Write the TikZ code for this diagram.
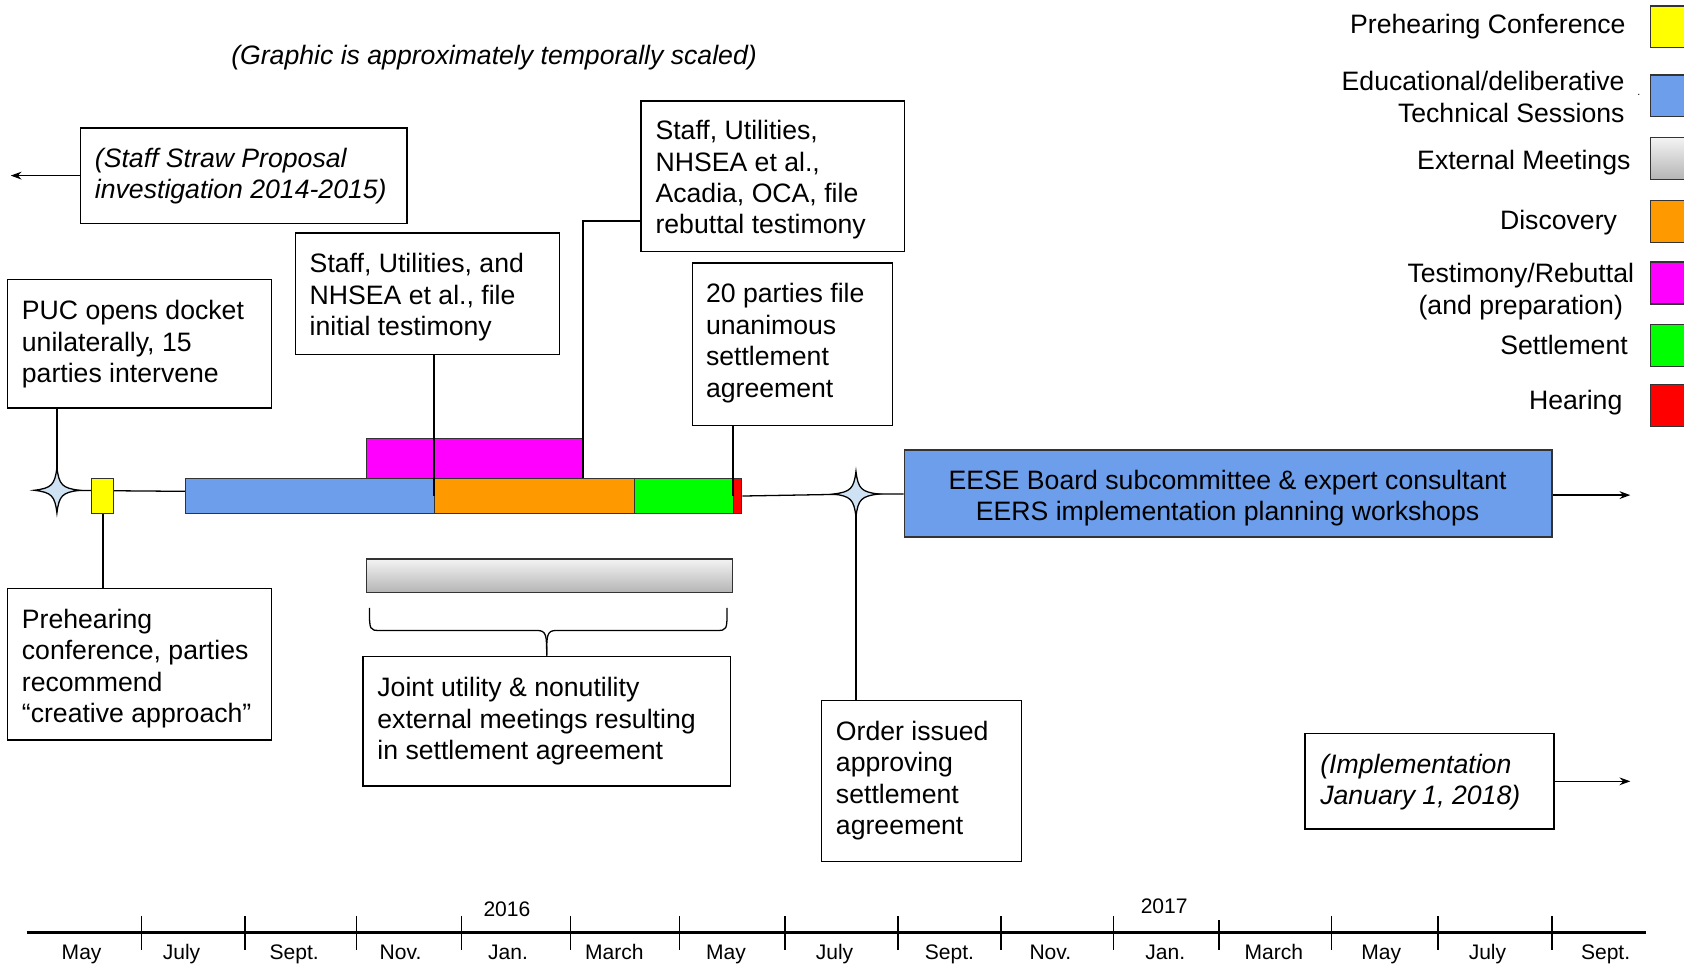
\documentclass[tikz,border=0pt]{standalone}
\usepackage{fontspec}
\setmainfont{Liberation Sans}
\usetikzlibrary{fit,arrows.meta}
\definecolor{barblue}{HTML}{6D9EEB}
\definecolor{barorange}{HTML}{FF9900}
\definecolor{barmag}{HTML}{FF00FF}
\definecolor{bargreen}{HTML}{00FF00}
\definecolor{barred}{HTML}{FF0000}
\definecolor{baryellow}{HTML}{FFFF00}
\definecolor{starfill}{HTML}{CFE2F3}
\definecolor{edge}{HTML}{333333}
\definecolor{graytop}{HTML}{F3F3F3}
\definecolor{graybot}{HTML}{B4B4B4}

\tikzset{
  basefont/.style={font=\fontsize{12.4}{14.65}\selectfont, inner sep=0pt},
  box/.style={draw=black, line width=0.65pt, inner sep=0pt},
  bar/.style={draw=edge, line width=0.6pt, inner sep=0pt},
  txt/.style={basefont, align=left, anchor=west, yshift=-1.25pt},
  link/.style={line width=1pt},
  thinlink/.style={line width=0.6pt},
  arrowline/.style={line width=0.6pt, -{Stealth[length=5pt,width=3.6pt]}},
  month/.style={font=\fontsize{9.8}{11}\selectfont, inner sep=0pt, anchor=base},
  legtxt/.style={basefont, anchor=base east},
  legbox/.style={draw=edge, line width=0.6pt, minimum width=25pt, minimum height=19.5pt, anchor=west, inner sep=0pt},
  pics/fourstar/.style={code={
    \draw[fill=starfill, line width=0.6pt]
      (0,-21) .. controls (2,-5) and (5,-2) .. (21,0)
      .. controls (5,2) and (2,5) .. (0,21)
      .. controls (-2,5) and (-5,2) .. (-21,0)
      .. controls (-5,-2) and (-2,-5) .. cycle;
  }},
}

\begin{document}
\begin{tikzpicture}[x=0.5pt,y=-0.5pt]
\clip (0,0) rectangle (1568,900);
\fill[white] (0,0) rectangle (1568,900);

% title
\node[basefont, anchor=base, font=\fontsize{12.4}{14.65}\selectfont\itshape] (title) at (460,60)
  {(Graphic is approximately temporally scaled)};

% legend
\node[legbox, fill=baryellow] (lg1) at (1536,25) {};
\node[legtxt] (lt1) at (1514,31.5) {Prehearing Conference};
\node[legbox, fill=barblue] (lg2) at (1536,89.2) {};
\node[basefont, align=right, anchor=east] (lt2) at (1513,90.5) {Educational/deliberative\\Technical Sessions};
\node[font=\fontsize{5}{6}\selectfont, inner sep=0pt] (ldot) at (1526,88) {.};
\node[legbox, top color=graytop, bottom color=graybot] (lg3) at (1536,147.8) {};
\node[legtxt] (lt3) at (1518.5,157.5) {External Meetings};
\node[legbox, fill=barorange] (lg4) at (1536,206.5) {};
\node[legtxt] (lt4) at (1506,214) {Discovery};
\node[legbox, fill=barmag] (lg5) at (1536,263.5) {};
\node[basefont, align=center, anchor=center] (lt5) at (1416,271.5) {Testimony/Rebuttal\\(and preparation)};
\node[legbox, fill=bargreen] (lg6) at (1536,321.7) {};
\node[legtxt] (lt6) at (1516,330) {Settlement};
\node[legbox, fill=barred] (lg7) at (1536,377.7) {};
\node[legtxt] (lt7) at (1511,381.5) {Hearing};

% annotation boxes
\node[box, fit={(75,119) (379,208)}] (straw) {};
\node[txt, font=\fontsize{12.4}{14.65}\selectfont\itshape] (strawtxt) at (88,161.5) {(Staff Straw Proposal\\investigation 2014-2015)};
\node[box, fit={(7,260) (253,380)}] (puc) {};
\node[txt] (puctxt) at (20,318) {PUC opens docket\\unilaterally, 15\\parties intervene};
\node[box, fit={(275,217) (521,330)}] (initial) {};
\node[txt] (initialtxt) at (288,274.5) {Staff, Utilities, and\\NHSEA et al., file\\initial testimony};
\node[box, fit={(597,94) (842,234)}] (rebuttal) {};
\node[txt] (rebuttaltxt) at (610,165) {Staff, Utilities,\\NHSEA et al.,\\Acadia, OCA, file\\rebuttal testimony};
\node[box, fit={(645,245) (831,396)}] (parties) {};
\node[txt] (partiestxt) at (657,317) {20 parties file\\unanimous\\settlement\\agreement};
\node[box, fit={(7,548) (253,689)}] (prehear) {};
\node[txt] (prehtxt) at (20,620) {Prehearing\\conference, parties\\recommend\\“creative approach”};
\node[box, fit={(338,611) (680,732)}] (joint) {};
\node[txt] (jointtxt) at (351,669) {Joint utility \& nonutility\\external meetings resulting\\in settlement agreement};
\node[box, fit={(765,652) (951,802)}] (order) {};
\node[txt] (ordertxt) at (778,724.5) {Order issued\\approving\\settlement\\agreement};
\node[box, fit={(1215,683) (1447,772)}] (impl) {};
\node[txt, font=\fontsize{12.4}{14.65}\selectfont\itshape] (impltxt) at (1229,725.5) {(Implementation\\January 1, 2018)};
\node[box, draw=edge, fill=barblue, fit={(842,419) (1445,500)}] (eese) {};
\node[basefont, align=center, yshift=-1.1pt] (eesetxt) at (1143,461.5) {EESE Board subcommittee \& expert consultant\\EERS implementation planning workshops};

% timeline anchors
\coordinate (s1) at (53,456.5);
\coordinate (s2) at (797,460);
\coordinate (rbk) at (543,205.5);
\coordinate (strawend) at (10,163.5);
\coordinate (eeseend) at (1518,461);
\coordinate (implend) at (1518,727.5);

% thin line along the timeline
\draw[thinlink] (s1) -- (173,457.5);

% activity bars
\node[bar, fill=barmag, fit={(341,408) (542.5,445.7)}] (mag) {};
\node[bar, fill=baryellow, fit={(85.5,445.5) (105.8,478)}] (yel) {};
\node[bar, fill=barblue, fit={(172.6,445.7) (404.6,478)}] (blue) {};
\node[bar, fill=barorange, fit={(404.6,445.7) (591,478)}] (orange) {};
\node[bar, fill=bargreen, fit={(591,445.7) (683,478)}] (green) {};
\node[bar, fill=barred, fit={(683,445.7) (690.6,478)}] (red) {};
\node[bar, top color=graytop, bottom color=graybot, fit={(341,520.5) (682,552)}] (ext) {};

% connectors
\draw[thinlink] (red.east) -- (s2) -- (eese.west |- s2);
\draw[link] (puc.south -| s1) -- (s1);
\draw[link] (yel.south) -- (yel.south |- prehear.north);
\draw[link] (initial.south -| orange.west) -- (orange.west);
\draw[link] (rebuttal.west |- rbk) -- (rbk) -- (rbk |- orange.north);
\draw[link] (parties.south -| red.west) -- (red.west);
\draw[link] (s2) -- (s2 |- order.north);
\draw[arrowline] (straw.west) -- (strawend);
\draw[arrowline] (eese.east |- eeseend) -- (eeseend);
\draw[arrowline] (impl.east) -- (implend);

% milestone stars
\pic at (s1) {fourstar};
\pic at (s2) {fourstar};

% brace under the external meetings bar
\draw[thinlink]
  (344,566) .. controls (344,587) .. (354,587) -- (500,587)
  .. controls (509,587) and (509,592) .. (joint.north);
\draw[thinlink]
  (677,566) .. controls (677,587) .. (667,587) -- (518,587)
  .. controls (509,587) and (509,592) .. (joint.north);

% month axis
\coordinate (axl) at (25,868);
\coordinate (axr) at (1533,868);
\draw[line width=1.2pt] (axl) -- (axr);
\foreach \x in {132,228,332,430,531,633,731,836,932,1037,1240,1339,1445}
  \draw[thinlink] (\x,853) -- (\x,885);
\draw[thinlink] (1135,857) -- (1135,885);
\foreach \x/\m [count=\i] in {76/May,169/July,274/Sept.,373/Nov.,473/Jan.,572/March,676/May,777/July,884/Sept.,978/Nov.,1085/Jan.,1186/March,1286/May,1385/July,1495/Sept.}
  \node[month] (m\i) at (\x,893) {\m};
\node[month] (y2016) at (472,853) {2016};
\node[month] (y2017) at (1084,851) {2017};
\end{tikzpicture}
\end{document}
